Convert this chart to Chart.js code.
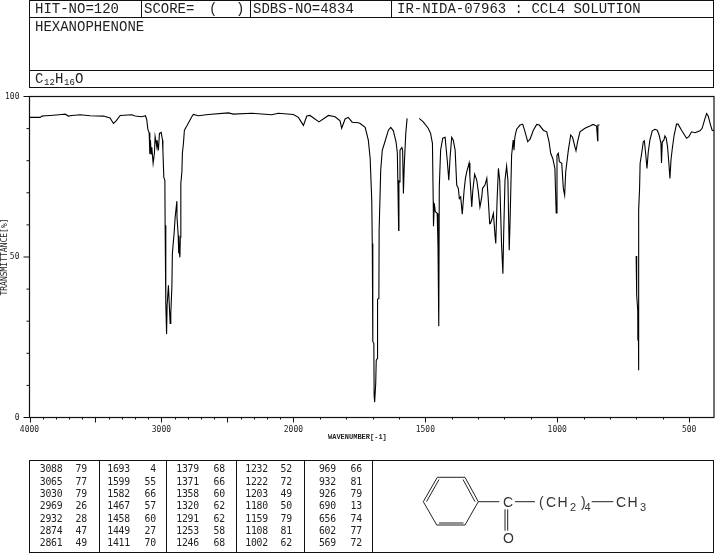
<!DOCTYPE html>
<html lang="en">
  <head>
    <meta charset="UTF-8" />
    <title>Hexanophenone IR</title>
    <script src="https://cdnjs.cloudflare.com/ajax/libs/Chart.js/4.4.1/chart.umd.min.js"></script>
    <style>
      html, body { margin: 0; padding: 0; background: #fff; overflow: hidden; }
      #page { position: relative; width: 715px; height: 553px; overflow: hidden; }
      canvas { position: absolute; left: 0; top: 0; }
      .box { position: absolute; border: 1px solid #111; box-sizing: border-box; }
      .vline { position: absolute; width: 1px; background: #111; }
      .txt { position: absolute; white-space: pre; color: #222; font-family: "Liberation Mono", monospace; }
      svg { position: absolute; left: 0; top: 0; }
    </style>
  </head>
  <body>
    <div id="page">
      <canvas id="chart" width="715" height="553"></canvas>
      <svg width="715" height="553" stroke="#222" stroke-width="1" fill="none">
        <path d="M423.3 501.7 L437.3 477.3 L465 477.3 L478.3 501.7 L465 525 L436.7 525 Z" />
        <path d="M426.5 501.7 L439 479.5 M463 479.5 L475 501.7 M439 523 L463.5 523" />
        <path d="M478.3 501.7 H499.3 M515 501.7 H535 M591.7 501.7 H613.3 M505 509.3 V530.7 M507.7 509.3 V530.7" />
      </svg>
    </div>

    <script>
      // spectrum (null = gap in the trace)
      const wavenumbers = [
        4000, 3919, 3906, 3881, 3843, 3755, 3730, 3705, 3679, 3616, 3540, 3439, 3389, 3364, 3343, 3313,
        3224, 3199, 3148, 3121, 3111, 3103, 3093, 3088, 3083, 3078, 3073, 3063, 3053, 3048, 3035, 3033,
        3023, 3015, 3002, 2992, 2989, 2982, 2974, 2972, 2967, 2961, 2957, 2947, 2942, 2934, 2929, 2921,
        2917, 2904, 2896, 2883, 2882, 2879, 2873, 2871, 2867, 2864, 2860, 2857, 2853, 2845, 2841, 2833,
        2826, 2808, 2770, 2758, 2720, 2644, 2492, 2455, 2315, 2164, 2114, 2000,
        1981, 1962, 1949, 1937, 1903, 1867, 1842, 1823, 1817, 1804, 1792, 1777, 1754, 1747, 1728, 1716,
        1709, 1703, 1701, 1699, 1695, 1694, 1692, 1688, 1686, 1682, 1681, 1676, 1675, 1669, 1663, 1653,
        1640, 1631, 1621, 1611, 1606, 1601, 1600, 1598, 1596, 1589, 1586, 1583, 1580, 1574, 1569, 1546,
        1523, 1508, 1489, 1480, 1473, 1470, 1469, 1466, 1462, 1455, 1452, 1449, 1447, 1442, 1434, 1425,
        1417, 1411, 1406, 1400, 1394, 1387, 1381, 1375, 1371, 1366, 1360, 1353, 1348, 1343, 1334, 1331,
        1324, 1320, 1313, 1305, 1299, 1293, 1286, 1283, 1274, 1267, 1262, 1256, 1253, 1247, 1242, 1236,
        1233, 1228, 1223, 1218, 1211, 1206, 1203, 1198, 1192, 1187, 1182, 1179, 1173, 1167, 1164, 1161,
        1159, 1154, 1141, 1131, 1122, 1112, 1103, 1091, 1078, 1068, 1053, 1040, 1031, 1025, 1017, 1009,
        1004, 1001, 996, 992, 983, 977, 972, 968, 958, 949, 942, 933, 929, 923, 914, 895,
        876, 864, 851, 847, 846, 840, 770, 701, 699, 695, 694.5, 693, 692, 691, 688, 686,
        680, 674, 670, 665, 660, 655, 649, 640, 630, 621, 614, 607, 605, 602, 596, 592,
        587, 582, 577, 573, 569, 564, 557, 548, 542, 529, 510, 501, 491, 478, 459, 451,
        440, 434, 428, 419, 413, 406
      ];
      const transmittance = [
        93.5, 93.5, 93.9, 94.0, 94.1, 94.4, 94.5, 93.9, 94.1, 94.3, 94.0, 93.9, 93.3, 91.6, 92.4, 94.1,
        94.3, 93.9, 93.7, 94.0, 92.7, 89.8, 88.7, 82.1, 86.4, 82.1, 84.2, 79.2, 82.4, 87.5, 84.3, 86.4,
        83.3, 88.5, 88.8, 86.4, 83.3, 74.8, 73.9, 59.9, 35.6, 26.0, 35.0, 41.2, 36.5, 29.3, 32.4, 40.6,
        51.2, 57.4, 62.4, 67.4, 62.4, 62.4, 56.8, 51.2, 56.8, 51.2, 49.9, 56.2, 73.0, 76.5, 82.4, 85.5,
        89.5, 90.8, 93.7, 94.4, 94.0, 94.4, 94.9, 94.5, 94.8, 94.3, 94.8, 94.4,
        93.5, 91.0, 93.9, 94.1, 92.1, 94.1, 93.7, 92.4, 90.1, 93.0, 93.5, 92.0, 91.8, 91.6, 90.4, 86.4,
        80.7, 67.7, 54.2, 23.7, 23.1, 6.9, 4.8, 10.6, 17.8, 18.4, 36.8, 37.1, 58.3, 77.1, 83.3, 85.9,
        89.5, 90.4, 89.3, 85.9, 82.4, 58.3, 73.6, 73.4, 83.3, 84.1, 83.3, 69.8, 78.1, 88.6, 93.2, null,
        93.2, 92.1, 90.1, 88.5, 85.4, 67.2, 59.6, 66.7, 64.1, 63.6, 53.7, 28.4, 71.9, 83.3, 87.0, 87.3,
        80.2, 73.9, 81.2, 87.3, 86.4, 83.3, 72.4, 71.4, 68.2, 68.7, 63.3, 70.8, 74.5, 76.5, 79.3, 75.0,
        65.6, 70.8, 75.8, 73.9, 70.3, 65.6, 68.7, 71.4, 72.4, 74.5, 68.7, 60.4, 60.5, 62.0, 63.6, 56.8,
        54.2, 67.7, 77.6, 73.9, 53.7, 44.8, 57.4, 73.9, 78.3, 73.9, 52.1, 60.5, 81.7, 86.4, 83.3, 87.0,
        88.0, 89.8, 91.1, 91.4, 89.0, 85.9, 86.7, 89.4, 91.3, 91.1, 89.5, 89.0, 85.9, 82.3, 80.7, 77.6,
        63.7, 81.7, 82.3, 79.7, 79.2, 71.4, 69.3, 76.5, 83.3, 88.0, 87.3, 84.3, 83.1, 85.9, 89.0, 90.1,
        90.8, 91.3, 90.8, 86.2, 91.1, 91.1, null, 50.3, 38.1, 33.4, 24.0, 33.4, 14.7, 64.6, 71.4, 79.2,
        82.3, 85.9, 86.2, 82.3, 77.6, 82.8, 86.4, 89.3, 89.8, 89.5, 88.0, 85.4, 79.3, 85.9, 86.4, 87.7,
        87.0, 84.3, 79.2, 74.5, 80.2, 83.8, 88.0, 91.4, 91.4, 89.5, 87.0, 87.5, 89.0, 88.7, 89.3, 90.1,
        93.2, 94.7, 93.9, 91.1, 89.5, 89.3
      ];

      // axis ticks and labels
      const xTickValues = [
        4000, 3900, 3800, 3700, 3600, 3500, 3400, 3300, 3200, 3100, 3000, 2900, 2800, 2700, 2600, 2500,
        2400, 2300, 2200, 2100, 2000, 1900, 1800, 1700, 1600, 1500, 1400, 1300, 1200, 1100, 1000, 900,
        800, 700, 600, 500
      ];
      const xLabelled = [4000, 3000, 2000, 1500, 1000, 500];
      const xMajor = [4000, 3500, 3000, 2500, 2000, 1500, 1000, 500];
      const yLabelled = [0, 50, 100];

      // peak table columns
      const peakWavenumbers = [
        [3088, 3065, 3030, 2969, 2932, 2874, 2861],
        [1693, 1599, 1582, 1467, 1458, 1449, 1411],
        [1379, 1371, 1358, 1320, 1291, 1253, 1246],
        [1232, 1222, 1203, 1180, 1159, 1108, 1002],
        [969, 932, 926, 690, 656, 602, 569],
      ];
      const peakTransmittance = [
        [79, 77, 79, 26, 28, 47, 49],
        [4, 55, 66, 57, 60, 27, 70],
        [68, 66, 60, 62, 62, 58, 68],
        [52, 72, 49, 50, 79, 81, 62],
        [66, 81, 79, 13, 74, 77, 72],
      ];

      // x axis is twice as wide per wavenumber below 2000
      class IrScale extends Chart.LinearScale {
        static id = "ir";
        static defaults = Chart.LinearScale.defaults;
        buildTicks() {
          return xTickValues.map((v) => ({ value: v }));
        }
        axisUnits(v) {
          return v >= 2000 ? (4000 - v) / 1000 : 2 + (2000 - v) / 500;
        }
        getPixelForValue(v) {
          if (v === null) return NaN;
          return this.getPixelForDecimal(this.axisUnits(v) / this.axisUnits(this.min));
        }
      }
      Chart.register(IrScale);

      // frame and the two lengths of tick marks
      const irFrame = {
        id: "irFrame",
        beforeDatasetsDraw(chart) {
          const { ctx, chartArea: a, scales } = chart;
          ctx.save();
          ctx.strokeStyle = "#111";
          ctx.lineWidth = 1.2;
          ctx.strokeRect(a.left, a.top, a.right - a.left, a.bottom - a.top);
          ctx.lineWidth = 1;
          ctx.beginPath();
          xTickValues.forEach((v) => {
            const x = Math.round(scales.x.getPixelForValue(v)) + 0.5;
            ctx.moveTo(x, a.bottom);
            ctx.lineTo(x, a.bottom + (xMajor.includes(v) ? 5 : 2));
          });
          for (let v = 0; v <= 100; v += 10) {
            const y = scales.y.getPixelForValue(v);
            ctx.moveTo(a.left, y);
            ctx.lineTo(a.left - (yLabelled.includes(v) ? 6 : 3), y);
          }
          ctx.stroke();
          ctx.restore();
        },
      };

      new Chart(document.getElementById("chart"), {
        type: "line",
        data: {
          datasets: [
            {
              data: wavenumbers.map((w, i) => ({ x: w, y: transmittance[i] })),
              borderColor: "#000",
              borderWidth: 1.1,
              pointRadius: 0,
              tension: 0,
              spanGaps: false,
            },
          ],
        },
        plugins: [irFrame],
        options: {
          responsive: false,
          animation: false,
          layout: { padding: { top: 96.5, left: 0, right: 1, bottom: 100.5 } },
          plugins: { legend: { display: false }, tooltip: { enabled: false } },
          scales: {
            x: {
              type: "ir",
              min: 406,
              max: 4000,
              afterFit: (s) => { s.height = 35; },
              grid: { display: false, drawTicks: false },
              border: { display: false },
              ticks: {
                autoSkip: false,
                maxRotation: 0,
                padding: 8,
                color: "#222",
                font: { family: "DejaVu Sans Mono", size: 8 },
                callback: (v) => (xLabelled.includes(v) ? String(v) : ""),
              },
            },
            y: {
              min: 0,
              max: 100,
              afterFit: (s) => { s.width = 29.5; },
              grid: { display: false, drawTicks: false },
              border: { display: false },
              title: {
                display: true,
                text: "TRANSMITTANCE[%]",
                color: "#222",
                padding: 0,
                font: { family: "DejaVu Sans Mono", size: 8 },
              },
              ticks: {
                autoSkip: false,
                stepSize: 10,
                padding: 10,
                color: "#222",
                font: { family: "DejaVu Sans Mono", size: 8 },
                callback: (v) => (yLabelled.includes(v) ? String(v) : ""),
              },
            },
          },
        },
      });

      // header, peak table and structure labels sit on top of the canvas
      const page = document.getElementById("page");
      function box(x, y, w, h) {
        const d = document.createElement("div");
        d.className = "box";
        d.style.cssText = `left:${x}px;top:${y}px;width:${w}px;height:${h}px`;
        page.appendChild(d);
      }
      function vline(x, y, h) {
        const d = document.createElement("div");
        d.className = "vline";
        d.style.cssText = `left:${x}px;top:${y}px;height:${h}px`;
        page.appendChild(d);
      }
      function text(str, x, y, size, extra) {
        const d = document.createElement("div");
        d.className = "txt";
        d.textContent = str;
        d.style.cssText = `left:${x}px;top:${y - 10}px;line-height:20px;font-size:${size}px;${extra || ""}`;
        page.appendChild(d);
      }

      box(29, 0, 685, 18);
      box(29, 17, 685, 54);
      box(29, 70, 685, 18);
      vline(141, 0, 18);
      vline(250, 0, 18);
      vline(391, 0, 18);
      text("HIT-NO=120", 35, 9, 14);
      text("SCORE=", 144, 9, 14);
      text("(", 209, 9, 14);
      text(")", 236, 9, 14);
      text("SDBS-NO=4834", 253, 9, 14);
      text("IR-NIDA-07963 : CCL4 SOLUTION", 397, 9, 14);
      text("HEXANOPHENONE", 35, 27, 14);
      text("C", 35, 79, 14);
      text("12", 44, 83, 9);
      text("H", 55, 79, 14);
      text("16", 64, 83, 9);
      text("O", 75, 79, 14);
      text("WAVENUMBER[-1]", 328, 437, 7, "font-weight:bold");

      const tableDividers = [99, 166, 236, 304];
      const wnRight = [62.5, 130, 199, 268, 336];
      const tRight = [87, 156, 225, 292, 362];
      box(29, 460, 344, 93);
      box(372, 460, 342, 93);
      tableDividers.forEach((x) => vline(x, 460, 93));
      const mono = 'font-family:"DejaVu Sans Mono",monospace;letter-spacing:-0.2px;transform:translateX(-100%)';
      peakWavenumbers.forEach((col, c) => {
        col.forEach((w, r) => {
          const y = 469.3 + r * 12.33;
          text(String(w), wnRight[c], y, 9.8, mono);
          text(String(peakTransmittance[c][r]), tRight[c], y, 9.8, mono);
        });
      });

      const sans = 'font-family:"Liberation Sans",sans-serif;letter-spacing:1.5px;color:#333';
      text("C", 503, 501.5, 14, sans);
      text("(", 539, 501.5, 14, sans);
      text("CH", 546, 501.5, 14, sans);
      text("2", 570, 506.5, 11, sans);
      text(")", 581, 501.5, 14, sans);
      text("4", 584.5, 506.5, 11, sans);
      text("CH", 616, 501.5, 14, sans);
      text("3", 640, 506.5, 11, sans);
      text("O", 503, 538, 14, sans);
    </script>
  </body>
</html>
